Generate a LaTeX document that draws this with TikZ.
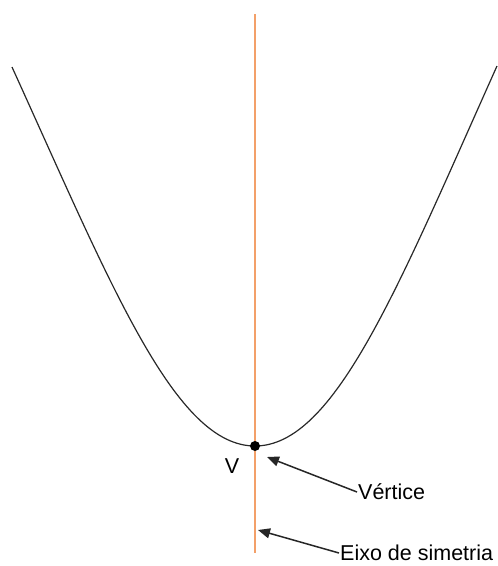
\documentclass[tikz,border=0pt]{standalone}
\usepackage{fontspec}
\setmainfont{Liberation Sans}
\usetikzlibrary{arrows.meta}
\definecolor{axisOr}{RGB}{243,160,105}
\definecolor{curveGr}{RGB}{40,40,40}
\tikzset{
  every node/.style={font=\fontsize{21.5}{25}\selectfont, text=black},
  LBL/.style={anchor=west, inner sep=1pt},
  AR/.style={-{Triangle[length=12pt, width=10pt]}, line width=1.5pt, black!85},
}

\begin{document}
\begin{tikzpicture}[x=1pt, y=1pt, yscale=-1]
\useasboundingbox (0,0) rectangle (498,566);

%% eixo de simetria
\coordinate (axTop) at (255,14);
\coordinate (axBot) at (255,553);
\draw[axisOr, line width=2pt] (axTop) -- (axBot);

%% parabola
\coordinate (V0) at (255,446);
\draw[curveGr, line width=1.2pt]
  (12,67) .. controls (112,287) and (175,446) .. (V0)
          .. controls (335,446) and (398,287) .. (497,66);
\fill[black] (V0) circle (5pt);
\node (vname) at (232,466) {V};

%% labels
\coordinate (tipV) at (267,457);
\coordinate (tipE) at (258,530);
\node[LBL] (vlab) at (357,492) {Vértice};
\node[LBL] (elab) at (339,553) {Eixo de simetria};

\draw[AR] (vlab.west) -- (tipV);
\draw[AR] (elab.west) -- (tipE);

\end{tikzpicture}
\end{document}
